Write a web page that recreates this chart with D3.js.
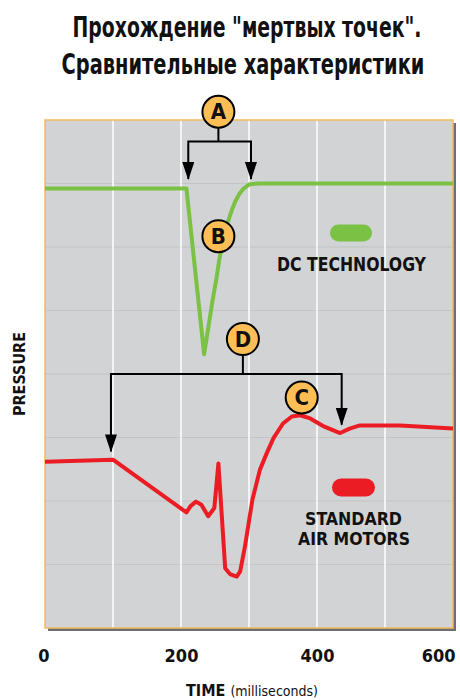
<!DOCTYPE html>
<html>
<head>
<meta charset="utf-8">
<script src="https://cdn.jsdelivr.net/npm/d3@7"></script>
<style>
  html, body { margin: 0; padding: 0; background: #fff; }
  svg text { font-family: "Liberation Sans Narrow", "DejaVu Sans Condensed", "Liberation Sans", sans-serif; font-weight: bold; fill: #111; }
</style>
</head>
<body>
<div id="chart"></div>
<script>
let width = 460;
let height = 700;

// time ticks (ms)
const timeTicks = [0, 200, 400, 600];
const timeGrid = [100, 200, 300, 400, 500];
const pressureGrid = [1, 2, 3, 4, 5, 6, 7];

// DC technology curve
const dcTime     = [0, 208, 234, 240, 246, 252.5, 256, 260, 265, 270, 275, 280, 286, 292, 301, 316, 600];
const dcPressure = [6.92, 6.92, 4.31, 4.72, 5.13, 5.53, 5.78, 6.0, 6.24, 6.43, 6.59, 6.72, 6.84, 6.92, 6.99, 7.0, 7.0];

// standard air motors curve
const airTime     = [0, 100, 208, 214, 222, 230, 240, 249, 255, 265, 272, 282, 287, 294, 305, 316, 326, 336, 350, 363, 375, 390, 409, 434, 448, 463, 493, 522, 600];
const airPressure = [2.62, 2.65, 1.82, 1.92, 1.99, 1.94, 1.76, 1.89, 2.59, 0.94, 0.85, 0.81, 0.89, 1.28, 2.02, 2.49, 2.75, 2.99, 3.22, 3.33, 3.35, 3.30, 3.18, 3.07, 3.14, 3.19, 3.19, 3.19, 3.14];

// callouts: letter, time, pressure
const calloutLetters  = ["A", "B", "C", "D"];
const calloutTime     = [255, 255, 377.5, 291];
const calloutPressure = [8.13, 6.17, 3.63, 4.55];

const green = "#7bc143";
const red = "#ec1c24";
const bubble = "#fdbe55";

let x = d3.scaleLinear().domain([0, 600]).range([45, 453]);
let y = d3.scaleLinear().domain([0, 8]).range([628, 120]);

let svg = d3.select("#chart").append("svg")
    .attr("width", width).attr("height", height);

let defs = svg.append("defs");
// arrow head drawn along +x so that orient=auto follows the path
defs.append("marker")
    .attr("id", "arrow")
    .attr("markerUnits", "userSpaceOnUse")
    .attr("viewBox", "0 0 18 12")
    .attr("refX", 17).attr("refY", 6)
    .attr("markerWidth", 18).attr("markerHeight", 12)
    .attr("orient", "auto-start-reverse")
    .append("path").attr("d", "M0,0 L18,6 L0,12 Z").attr("fill", "#000");

// squeeze a centred text horizontally to a given width (condensed look)
function fitText(parent, cx, cy, size, w, str) {
    let g = parent.append("g");
    let t = g.append("text").attr("text-anchor", "middle")
        .attr("font-size", size).text(str);
    let len = t.node().getComputedTextLength();
    g.attr("transform", `translate(${cx},${cy}) scale(${w / len},1)`);
    return t;
}

// title
let title = svg.append("g");
fitText(title, 247, 37, 29, 349, 'Прохождение "мертвых точек".');
fitText(title, 243, 74, 29, 363, "Сравнительные характеристики");

// plot frame with shadow
svg.append("rect")
    .attr("x", x(0) + 3).attr("y", y(8) + 3)
    .attr("width", x(600) - x(0)).attr("height", y(0) - y(8))
    .attr("fill", "#6d6f71");
svg.append("rect")
    .attr("x", x(0)).attr("y", y(8))
    .attr("width", x(600) - x(0)).attr("height", y(0) - y(8))
    .attr("fill", "#d1d3d4");

svg.append("g").selectAll("line")
    .data(pressureGrid).enter().append("line")
    .attr("x1", x(0)).attr("x2", x(600))
    .attr("y1", d => y(d)).attr("y2", d => y(d))
    .attr("stroke", "#c2c4c6").attr("stroke-width", 1.2);

svg.append("g").selectAll("line")
    .data(timeGrid).enter().append("line")
    .attr("x1", d => x(d)).attr("x2", d => x(d))
    .attr("y1", y(8)).attr("y2", y(0))
    .attr("stroke", "#fff").attr("stroke-width", 1.5);

svg.append("rect")
    .attr("x", x(0)).attr("y", y(8))
    .attr("width", x(600) - x(0)).attr("height", y(0) - y(8))
    .attr("fill", "none").attr("stroke", "#f5bb5c").attr("stroke-width", 1.5);

// curves
let line = d3.line().x(d => x(d[0])).y(d => y(d[1]));
svg.append("path")
    .attr("d", line(d3.zip(dcTime, dcPressure)))
    .attr("fill", "none").attr("stroke", green)
    .attr("stroke-width", 4).attr("stroke-linejoin", "round");
svg.append("path")
    .attr("d", line(d3.zip(airTime, airPressure)))
    .attr("fill", "none").attr("stroke", red)
    .attr("stroke-width", 4).attr("stroke-linejoin", "round");

// brackets
function bracket(tCircle, pCircle, pBar, t1, p1, t2, p2) {
    let g = svg.append("g").attr("stroke", "#000").attr("stroke-width", 2).attr("fill", "none");
    g.append("line").attr("x1", x(tCircle)).attr("x2", x(tCircle))
        .attr("y1", y(pCircle)).attr("y2", y(pBar));
    g.append("path")
        .attr("d", `M${x(t1)},${y(p1)} L${x(t1)},${y(pBar)} L${x(t2)},${y(pBar)} L${x(t2)},${y(p2)}`)
        .attr("marker-start", "url(#arrow)")
        .attr("marker-end", "url(#arrow)");
}
bracket(calloutTime[0], calloutPressure[0], 7.66, 210.7, 7.07, 302.9, 7.07);
bracket(calloutTime[3], calloutPressure[3], 4.0, 97, 2.78, 436.3, 3.2);

// callout bubbles
let bubbles = svg.append("g").selectAll("g")
    .data(calloutLetters).enter().append("g")
    .attr("transform", (d, i) => `translate(${x(calloutTime[i])},${y(calloutPressure[i])})`);
bubbles.append("circle").attr("r", 16)
    .attr("fill", bubble).attr("stroke", "#000").attr("stroke-width", 2);
bubbles.append("text").attr("text-anchor", "middle").attr("dy", 7.5)
    .attr("font-size", 22).text(d => d);

// legend
let legend = svg.append("g");
legend.append("rect").attr("x", 330).attr("y", 224.5)
    .attr("width", 42).attr("height", 17).attr("rx", 8.5)
    .attr("fill", green);
fitText(legend, 351.5, 270.5, 19, 149, "DC TECHNOLOGY");
legend.append("rect").attr("x", 332).attr("y", 478.5)
    .attr("width", 43).attr("height", 18).attr("rx", 9)
    .attr("fill", red);
fitText(legend, 353.5, 524.5, 18, 97, "STANDARD");
fitText(legend, 354, 545, 18, 112, "AIR MOTORS");

// x axis
let xAxis = svg.append("g")
    .attr("transform", `translate(0, 662)`)
    .call(d3.axisBottom(x).tickValues(timeTicks).tickSize(0).tickPadding(0));
xAxis.select(".domain").remove();
xAxis.selectAll("text")
    .attr("font-size", 18).attr("dy", 0).attr("y", 0)
    .attr("fill", "#111");
xAxis.attr("font-family", null).attr("font-size", null);
xAxis.selectAll(".tick").filter(d => d === 600).select("text")
    .attr("text-anchor", "end").attr("x", 2);
xAxis.selectAll(".tick").filter(d => d === 0).select("text")
    .attr("x", -1.5);

let xLabel = svg.append("text").attr("x", 252).attr("y", 696)
    .attr("text-anchor", "middle");
xLabel.append("tspan").attr("font-size", 16).text("TIME ");
xLabel.append("tspan").attr("font-size", 14).attr("font-weight", "normal").text("(milliseconds)");

svg.append("g").attr("transform", "translate(25, 374) rotate(-90)")
    .append("text")
    .attr("text-anchor", "middle").attr("font-size", 16)
    .text("PRESSURE");
</script>
</body>
</html>
